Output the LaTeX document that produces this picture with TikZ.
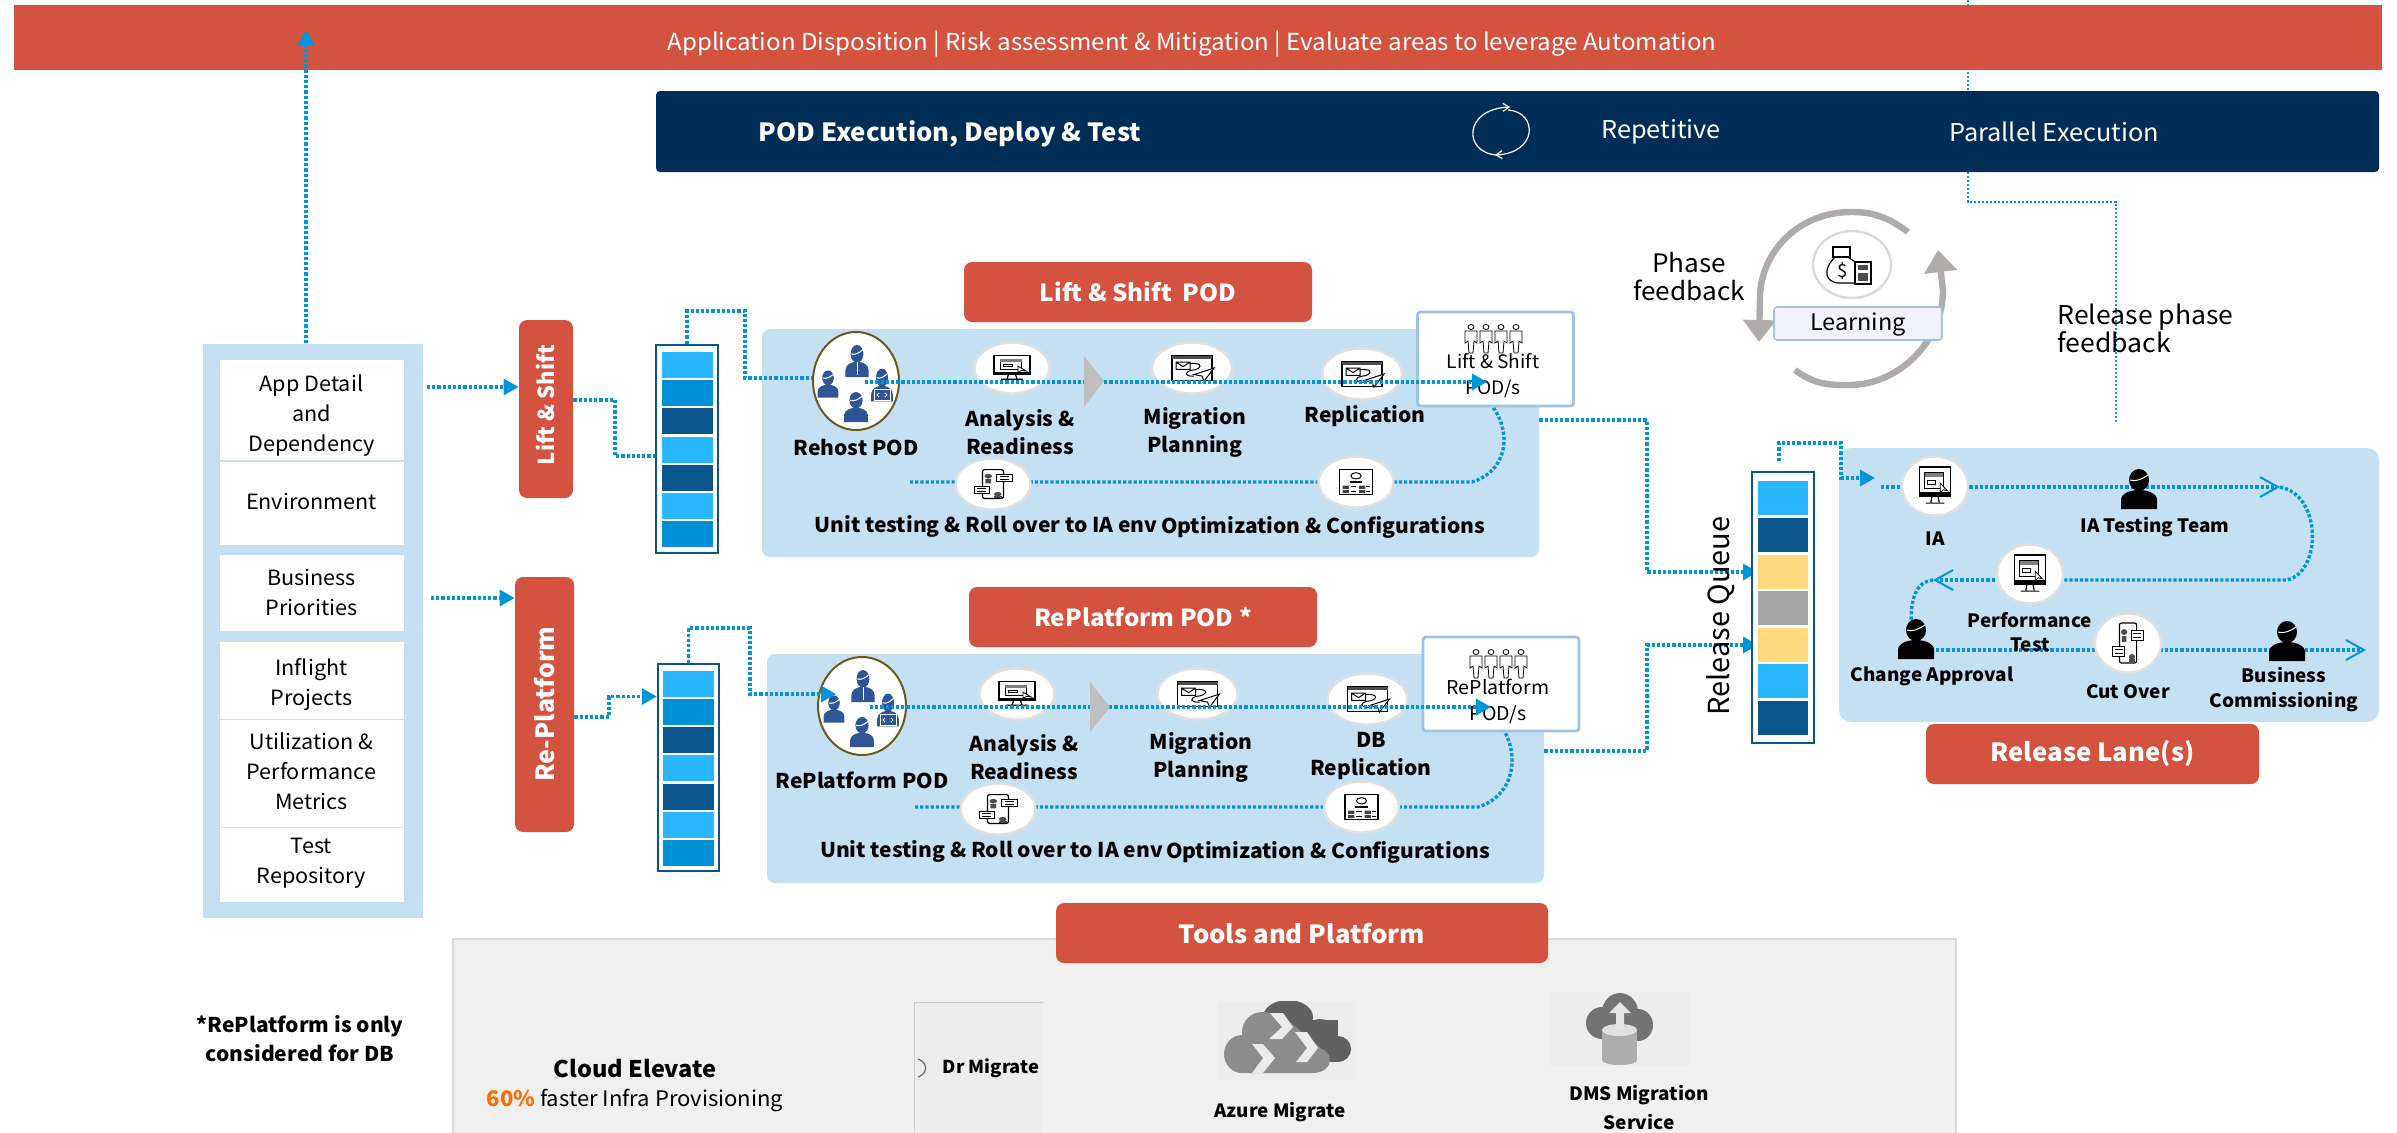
\documentclass[tikz,border=0pt]{standalone}
\usepackage{fontspec}
\setmainfont{Noto Sans CJK SC}[FakeStretch=1.03]
\newfontfamily\uprightsans{Noto Sans CJK SC}
\usetikzlibrary{arrows.meta,shapes.geometric}
\definecolor{tagred}{HTML}{D35340}
\definecolor{navybar}{HTML}{002D55}
\definecolor{panelblue}{HTML}{C5E0F2}
\definecolor{flowblue}{HTML}{0094D8}
\definecolor{qlight}{HTML}{29B8FF}
\definecolor{qmid}{HTML}{0090D6}
\definecolor{qdark}{HTML}{0A558C}
\definecolor{qyellow}{HTML}{FFD97D}
\definecolor{qgrey}{HTML}{A6A6A6}
\definecolor{teamblue}{HTML}{2F5597}
\definecolor{teamring}{HTML}{6B5A1E}
\definecolor{ringgrey}{HTML}{AFABAB}
\definecolor{edgeblue}{HTML}{9DC3E6}
\tikzset{
  boxwh/.style 2 args={minimum width=#1*.5pt,minimum height=#2*.5pt,inner sep=0pt},
  redtag/.style={fill=tagred,rounded corners=4pt,text=white,font=\fontsize{11.75}{14}\selectfont\bfseries},
  sidetag/.style={fill=tagred,rounded corners=4pt},
  sidetext/.style={text=white,rotate=90,inner sep=0pt,font=\fontsize{11}{14}\uprightsans\bfseries},
  plainlbl/.style={inner sep=0pt,align=center,font=\fontsize{11.7}{14}\selectfont},
  steplbl/.style={inner sep=0pt,align=center,font=\fontsize{10.2}{14}\selectfont\bfseries},
  lanelbl/.style={inner sep=0pt,align=center,font=\fontsize{9.2}{12.2}\selectfont\bfseries},
  inputbox/.style={fill=white},
  inputlbl/.style={inner sep=0pt,align=center,font=\fontsize{10.5}{15}\selectfont},
  queuebox/.style={draw=qdark,line width=1.2pt,fill=white},
  cellbox/.style={boxwh={51}{26}},
  relcell/.style={boxwh={50}{34}},
  stepdisc/.style={ellipse,fill=white,draw=black!12,line width=1.2pt,boxwh={75}{51}},
  lanedisc/.style={ellipse,fill=white,draw=black!12,line width=1.2pt,boxwh={66}{59}},
  teamdisc/.style={ellipse,fill=white,draw=teamring,line width=1pt},
  podsbox/.style={draw=edgeblue,fill=white,rounded corners=1.5pt,line width=1.4pt,boxwh={156}{94}},
  flow/.style={draw=flowblue,line width=1.7pt,dash pattern=on 1.6pt off 1pt},
  thinflow/.style={draw=flowblue,line width=1.1pt,dash pattern=on 1.2pt off .8pt},
  flowtip/.style={flow,-{Triangle[length=7.5pt,width=8pt]}},
  flowbarb/.style={flow,-{Straight Barb[length=9pt,width=10pt,line width=1pt]}},
  ring/.style={draw=ringgrey,line width=3.2pt,-{Triangle[length=11pt,width=16pt]}},
  pics/personicon/.style={code={
    \fill[pic actions] (0,-9) ellipse [x radius=10,y radius=11];
    \fill[pic actions] (-18,20) -- (-18,11) .. controls (-18,4) and (-8,1) .. (0,1) .. controls (8,1) and (18,4) .. (18,11) -- (18,20) -- cycle;
    \draw[white,line width=.5pt] (-9,-9) .. controls (-3,-7) and (3,-10) .. (9,-14);
  }},
  pics/monitoricon/.style={code={
    \draw[line width=.6pt,fill=white] (-15,-20) rectangle (15,11);
    \fill[black] (-15,6) rectangle (15,11);
    \draw[line width=.6pt] (-3,11) -- (-4,17) (3,11) -- (4,17) (-9,18) -- (9,18);
    \draw[line width=.5pt] (-10,-14) rectangle (8,3) (-7,-6) rectangle (0,-2);
    \fill[black!50] (-10,-14) rectangle (8,-10);
    \draw[fill=white,line width=.4pt] (5,-3) -- (5,7) -- (8,4) -- (12,5) -- cycle;
  }},
  pics/mailicon/.style={code={
    \draw[line width=.6pt,fill=white] (-20,-17) rectangle (20,17);
    \fill[black!70] (-20,-17) rectangle (20,-12);
    \draw[line width=.5pt] (-16,-8) rectangle (-2,2) (-16,-8) -- (-9,-2) -- (-2,-8);
    \draw[line width=.5pt] (-2,-6) .. controls (12,-8) and (10,2) .. (0,3) .. controls (-8,5) and (-8,12) .. (2,11);
    \draw[fill=white,line width=.5pt] (22,0) -- (2,9) -- (10,11) -- (12,18) -- cycle;
  }},
  pics/phoneicon/.style={code={
    \draw[line width=.6pt,fill=white,rounded corners=1pt] (-11,-20) rectangle (11,20);
    \draw[line width=.5pt,fill=white] (4,-13) rectangle (20,-3) (-20,3) rectangle (-4,13);
    \draw[line width=.4pt] (7,-10) -- (17,-10) (7,-6) -- (17,-6) (-17,6) -- (-7,6) (-17,10) -- (-7,10);
    \fill[black!70] (-5,-11) ellipse [x radius=4,y radius=3] (-8,-7) rectangle (-2,-1) (5,14) ellipse [x radius=4,y radius=3];
    \fill[black!70] (1,16) rectangle (9,19);
  }},
  pics/configicon/.style={code={
    \draw[line width=.6pt,fill=white] (-16,-20) rectangle (16,20);
    \draw[line width=.5pt] (0,-10) ellipse [x radius=5,y radius=5];
    \draw[line width=.6pt] (-6,0) -- (6,0);
    \fill[black!75] (-13,6) rectangle (-7,11) (-13,13) rectangle (-7,18) (3,6) rectangle (9,11) (3,13) rectangle (9,18);
    \draw[line width=.5pt] (-5,8) -- (0,8) (-5,15) -- (0,15) (10,8) -- (14,8) (10,15) -- (14,15);
  }},
  pics/teamicon/.style={code={
    \pic[fill=teamblue,xscale=.64,yscale=.8] at (1,-20) {personicon};
    \pic[fill=teamblue,xscale=.58,yscale=.68] at (-28,3) {personicon};
    \pic[fill=teamblue,xscale=.6,yscale=.82] at (26,4) {personicon};
    \pic[fill=teamblue,xscale=.66,yscale=.75] at (0,26) {personicon};
    \draw[white,line width=.5pt] (1,-19) -- (1,-6);
    \draw[white,line width=.5pt,fill=teamblue] (18,8) rectangle (34,19);
    \draw[white,line width=.4pt] (23,12) -- (21,14) -- (23,16) (29,12) -- (31,14) -- (29,16);
  }},
  pics/staffrow/.style={code={
    \foreach \xo in {-22,-7,8,23}{
      \draw[line width=.4pt] (\xo,-12) ellipse [x radius=3,y radius=2.5];
      \draw[line width=.4pt,fill=white] (\xo-6,-8) -- (\xo+6,-8) -- (\xo+6,4) -- (\xo+3,2) -- (\xo+2,14) -- (\xo-2,14) -- (\xo-3,2) -- (\xo-6,4) -- cycle;
    }
  }},
}
\begin{document}
\begin{tikzpicture}[x=.5pt,y=-.5pt]
\useasboundingbox (0,0) rectangle (2397,1132);
% feedback line behind the bars
\coordinate (relTop) at (1968,0);
\coordinate (relEnd) at (2116,422);
\draw[thinflow] (relTop) -- (1968,202) -| (relEnd);

\node[fill=tagred,boxwh={2368}{65}] (banner) at (1198,37.5) {};
\node[plainlbl,text=white] (bannerText) at (1192,44) {Application Disposition | Risk assessment \& Mitigation | Evaluate areas to leverage Automation};
\node[fill=navybar,rounded corners=2pt,boxwh={1723}{81}] (navy) at (1517.5,131.5) {};
\node[plainlbl,text=white,font=\fontsize{12.5}{14}\selectfont\bfseries] (navyTitle) at (950,134) {POD Execution, Deploy \& Test};
\node[plainlbl,text=white,font=\fontsize{12.3}{14}\selectfont] (navyRep) at (1661,132) {Repetitive};
\node[plainlbl,text=white,font=\fontsize{12.3}{14}\selectfont] (navyPar) at (2054,132) {Parallel Execution};
\draw[white,line width=.6pt,-{Straight Barb[length=3pt,width=4pt]}] (1497,155) .. controls (1463,153) and (1463,109) .. (1510,107);
\draw[white,line width=.6pt,-{Straight Barb[length=3pt,width=4pt]}] (1508,110) .. controls (1538,112) and (1538,153) .. (1495,155);

% inputs
\node[fill=panelblue,boxwh={220}{574}] (inputs) at (313,630.5) {};
\foreach \nm/\cy/\bh/\ty/\txt in {appDetail/410/100/416/{App Detail\\and\\Dependency},envBox/503/83/501.5/{Environment},bizBox/593/76/592/{Business\\Priorities},flightBox/680/77/684.5/{Inflight\\Projects},utilBox/773.5/107/771/{Utilization \&\\Performance\\Metrics},testBox/865/74/863.5/{Test\\Repository}}{
  \node[inputbox,boxwh={184}{\bh}] (\nm) at (311.5,\cy) {};
  \node[inputlbl] (\nm Text) at (311.5,\ty) {\txt};
}
\node[sidetag,boxwh={54}{178}] (lsTag) at (546,409) {};
\node[sidetext] (lsTagText) at (546,405) {Lift \& Shift};
\node[sidetag,boxwh={59}{255}] (rpTag) at (544.5,704.5) {};
\node[sidetext,font=\fontsize{12.5}{14}\uprightsans\bfseries] (rpTagText) at (544.5,704) {Re-Platform};

% queues
\node[queuebox,boxwh={62}{208}] (lsQueue) at (687,449) {};
\foreach \y/\c [count=\i] in {365/qlight,393/qmid,421/qdark,449.5/qlight,478/qdark,506/qlight,534/qmid}{
  \node[cellbox,fill=\c] (lsCell\i) at (687.5,\y) {};
}
\node[queuebox,boxwh={61}{207}] (rpQueue) at (688.5,767.5) {};
\foreach \y/\c [count=\i] in {684/qlight,712/qmid,740/qdark,768/qlight,796.5/qdark,825/qlight,852.5/qmid}{
  \node[cellbox,fill=\c] (rpCell\i) at (688.5,\y) {};
}
\coordinate (feedA) at (306,30);
\coordinate (inA) at (427,387);
\coordinate (inB) at (431,598);
\coordinate (lsBend) at (615,456);
\coordinate (rpBend) at (609,696.5);
\draw[flowtip] (feedA |- inputs.north) -- (feedA);
\draw[flowtip] (inA) -- (lsTag.west |- inA);
\draw[flowtip] (inB) -- (rpTag.west |- inB);
\draw[flow] (lsTag.east |- 0,400) -| (lsBend) -- (lsQueue.west |- lsBend);
\draw[flowtip] (rpTag.east |- 0,717) -| (rpBend) -- (rpQueue.west |- rpBend);

% lift and shift pod
\node[redtag,boxwh={348}{60}] (lsTitle) at (1138,292) {Lift \& Shift\ \ POD};
\node[fill=panelblue,rounded corners=4pt,boxwh={777}{228}] (lsPanel) at (1150.5,443) {};
\coordinate (lsBack) at (910,482);
\coordinate (lsTurn) at (1472,482);
\coordinate (lsStart) at (865,382);
\coordinate (lsTip) at (1487,381);
\draw[flow] (lsQueue.north) |- (745,311) -- (745,378) -- (811,378);
\draw[flow] (lsBack) -- (lsTurn) .. controls (1512,470) and (1515,420) .. (1478,392);
\node[teamdisc,boxwh={86}{98}] (lsTeam) at (856,381) {};
\pic at (lsTeam) {teamicon};
\node[stepdisc] (lsAnalysis) at (1012,368) {};
\node[stepdisc,boxwh={80}{51}] (lsMigPlan) at (1192,368) {};
\node[stepdisc,boxwh={80}{51}] (lsRepl) at (1362,374) {};
\node[stepdisc] (lsUnit) at (993,484) {};
\node[stepdisc] (lsOpt) at (1356,482) {};
\pic[xscale=1.2,yscale=.62] at (lsAnalysis) {monitoricon};
\pic[yscale=.73] at (lsMigPlan) {mailicon};
\pic[yscale=.73] at (lsRepl) {mailicon};
\pic[xscale=.95,yscale=.72] at (lsUnit) {phoneicon};
\pic[xscale=1.03,yscale=.62] at (lsOpt) {configicon};
\node[podsbox] (lsPods) at (1495.5,359) {};
\pic at (1493,339) {staffrow};
\node[plainlbl,font=\fontsize{9.3}{13}\selectfont] (lsPodsText) at (1493,375.5) {Lift \& Shift\\POD/s};
\node[steplbl] (lsTeamLbl) at (856,447) {Rehost POD};
\node[steplbl] (lsAnalysisLbl) at (1020,432) {Analysis \&\\Readiness};
\node[steplbl] (lsMigLbl) at (1195,432) {Migration\\Planning};
\node[steplbl] (lsReplLbl) at (1365,416) {Replication};
\node[steplbl] (lsUnitLbl) at (986,526) {Unit testing \& Roll over to IA env};
\node[steplbl] (lsOptLbl) at (1323,527) {Optimization \& Configurations};
\draw[flowtip] (lsStart) -- (lsTip |- lsStart);
\fill[black!25] (1084,356) -- (1104,381) -- (1084,407) -- cycle;

% replatform pod
\node[redtag,boxwh={348}{60}] (rpTitle) at (1143,617) {RePlatform POD *};
\node[fill=panelblue,rounded corners=4pt,boxwh={777}{229}] (rpPanel) at (1155.5,768.5) {};
\coordinate (rpBack) at (915,807);
\coordinate (rpTurn) at (1478,807);
\coordinate (rpStart) at (870,707);
\coordinate (rpTip) at (1491,706);
\draw[flow] (rpBack) -- (rpTurn) .. controls (1518,795) and (1522,745) .. (1494,718);
\node[teamdisc,boxwh={88}{98}] (rpTeam) at (862,706) {};
\pic at (rpTeam) {teamicon};
\draw[flowtip] (rpQueue.north) |- (750,628) -- (750,694) -- (836,694);
\node[stepdisc] (rpAnalysis) at (1017,694) {};
\node[stepdisc,boxwh={80}{51}] (rpMigPlan) at (1197.5,694) {};
\node[stepdisc,boxwh={80}{51}] (rpRepl) at (1367.5,699) {};
\node[stepdisc] (rpUnit) at (998,809) {};
\node[stepdisc] (rpOpt) at (1361.5,807) {};
\pic[xscale=1.2,yscale=.62] at (rpAnalysis) {monitoricon};
\pic[yscale=.73] at (rpMigPlan) {mailicon};
\pic[yscale=.73] at (rpRepl) {mailicon};
\pic[xscale=.95,yscale=.72] at (rpUnit) {phoneicon};
\pic[xscale=1.03,yscale=.62] at (rpOpt) {configicon};
\node[podsbox] (rpPods) at (1501,684) {};
\pic at (1498,664) {staffrow};
\node[plainlbl,font=\fontsize{9.5}{13}\selectfont] (rpPodsText) at (1498,701) {RePlatform\\POD/s};
\node[steplbl] (rpTeamLbl) at (862,780) {RePlatform POD};
\node[steplbl] (rpAnalysisLbl) at (1024,757) {Analysis \&\\Readiness};
\node[steplbl] (rpMigLbl) at (1201,757) {Migration\\Planning};
\node[steplbl] (rpReplLbl) at (1371,756) {DB\\Replication};
\node[steplbl] (rpUnitLbl) at (991.5,851) {Unit testing \& Roll over to IA env};
\node[steplbl] (rpOptLbl) at (1328,852) {Optimization \& Configurations};
\draw[flowtip] (rpStart) -- (rpTip |- rpStart);
\fill[black!25] (1090,682) -- (1110,707) -- (1090,732) -- cycle;

% learning ring
\node[plainlbl,font=\fontsize{12.7}{14}\selectfont] (phaseLbl) at (1689,277) {Phase\\feedback};
\node[plainlbl,font=\fontsize{12.9}{14}\selectfont,align=left,anchor=west] (relLbl) at (2057,328) {Release phase\\feedback};
\draw[ring] (1908,232) .. controls (1885,215) and (1870,212) .. (1851,212) .. controls (1800,212) and (1762,250) .. (1760,295) -- (1759,342);
\draw[ring] (1795,370) .. controls (1815,385) and (1830,385) .. (1849,385) .. controls (1900,385) and (1943,340) .. (1943,290) -- (1938,250);
\node[ellipse,fill=white,draw=black!15,line width=1.2pt,boxwh={78}{67}] (learnDisc) at (1852,264.5) {};
\draw[line width=.6pt,fill=white] (1835,257) .. controls (1822,270) and (1825,283) .. (1840,283) -- (1855,283) -- (1855,262) -- (1848,257) -- cycle;
\draw[line width=.6pt] (1833,247) rectangle (1850,257);
\node[inner sep=0pt,font=\fontsize{9}{9}\selectfont] (learnCoin) at (1843,271) {\$};
\draw[line width=.6pt,fill=white] (1855,262) rectangle (1871,284);
\fill[black!70] (1858,265) rectangle (1868,270);
\fill[black!70] (1858,273) rectangle (1868,281);
\node[fill=blue!5!white,draw=edgeblue,rounded corners=1.5pt,line width=.8pt,boxwh={168}{33}] (learnBox) at (1858,323.5) {};
\node[plainlbl,font=\fontsize{11.4}{14}\selectfont] (learnLbl) at (1858,325) {Learning};

% release queue and lane
\coordinate (relBendA) at (1647,420);
\coordinate (relBendB) at (1647,751);
\coordinate (relIn) at (1875,478);
\draw[flowtip] (lsPanel.east |- relBendA) -- (relBendA) |- (1758,572);
\draw[flowtip] (rpPanel.east |- relBendB) -- (relBendB) |- (1758,645);
\node[queuebox,boxwh={62}{271}] (relQueue) at (1783,607.5) {};
\foreach \y/\c [count=\i] in {498/qlight,535/qdark,572/qyellow,608/qgrey,645/qyellow,681/qlight,718/qdark}{
  \node[relcell,fill=\c] (relCell\i) at (1783,\y) {};
}
\node[inner sep=0pt,rotate=90,font=\fontsize{14.5}{14}\uprightsans] (relQueueLbl) at (1721,616) {Release Queue};
\node[fill=panelblue,rounded corners=6pt,boxwh={540}{274}] (relPanel) at (2109,585) {};
\node[redtag,font=\fontsize{12.5}{14}\selectfont\bfseries,boxwh={333}{60}] (relLane) at (2092.5,754) {Release Lane(s)};
\coordinate (laneA) at (1881,487);
\coordinate (laneB) at (2280,487);
\coordinate (laneC) at (1933,580);
\coordinate (laneD) at (1936,650);
\coordinate (laneE) at (2366,650);
\draw[flowtip] (1779,461) |- (1841,443) |- (relIn);
\draw[flowbarb] (laneA) -- (laneB);
\draw[flow] (laneB) .. controls (2322,495) and (2322,572) .. (2287,580) -- (2000,580);
\draw[flowbarb] (2000,580) -- (laneC);
\draw[flow] (laneC) .. controls (1915,582) and (1911,600) .. (1911,622);
\draw[flowbarb] (laneD) -- (laneE);
\node[lanedisc] (iaDisc) at (1935,486) {};
\node[lanedisc] (perfDisc) at (2030,574) {};
\node[lanedisc] (cutDisc) at (2128,643) {};
\pic[xscale=1.03,yscale=.95] at (iaDisc) {monitoricon};
\pic[xscale=1.03,yscale=.95] at (perfDisc) {monitoricon};
\pic[xscale=.78] at (cutDisc) {phoneicon};
\pic[fill=black] at (2139,489) {personicon};
\pic[fill=black] at (1916,639) {personicon};
\pic[fill=black] at (2287,641) {personicon};
\node[lanelbl] (iaLbl) at (1935.5,539) {IA};
\node[lanelbl] (iaTeamLbl) at (2155,527) {IA Testing Team};
\node[lanelbl] (perfLbl) at (2030,632) {Performance\\Test};
\node[lanelbl] (changeLbl) at (1932,676) {Change Approval};
\node[lanelbl] (cutLbl) at (2128,692) {Cut Over};
\node[lanelbl] (bizLbl) at (2284,689.5) {Business\\Commissioning};

% tools
\node[fill=black!6,draw=black!15,line width=1pt,anchor=north west,boxwh={1503}{200}] (toolPanel) at (452,938) {};
\node[redtag,font=\fontsize{12.5}{14}\selectfont\bfseries,boxwh={492}{60}] (toolTitle) at (1302,933) {Tools and Platform};
\node[steplbl,font=\fontsize{10.2}{14.5}\selectfont\bfseries] (noteLbl) at (300,1038.5) {*RePlatform is only\\considered for DB};
\node[steplbl,font=\fontsize{11.45}{14}\selectfont\bfseries] (elevLbl) at (635,1068) {Cloud Elevate};
\node[plainlbl,font=\fontsize{10.7}{14}\selectfont] (elevSub) at (635,1100) {\textcolor{orange!85!red}{\textbf{60\%}} faster Infra Provisioning};
\node[fill=black!7,anchor=north west,boxwh={129}{140}] (drBox) at (914,1002) {};
\draw[black!20,line width=.5pt] (1043,1002) -- (914,1002) -- (914,1132);
\draw[black!60,line width=.6pt] (918,1059) .. controls (928,1062) and (928,1074) .. (918,1077);
\node[steplbl,font=\fontsize{8.9}{14}\selectfont\bfseries] (drLbl) at (991,1068) {Dr Migrate};
\node[fill=black!7,boxwh={138}{78}] (azBox) at (1287,1041) {};
\begin{scope}
\clip (azBox.south west) rectangle (azBox.north east);
\fill[black!62] (1288,1017) ellipse [x radius=25,y radius=17];
\fill[black!62] (1320,1037) ellipse [x radius=17,y radius=18];
\fill[black!62] (1338,1049) ellipse [x radius=13,y radius=13];
\fill[black!62] (1280,1020) rectangle (1338,1062);
\end{scope}
\fill[black!45] (1262,1032) ellipse [x radius=20,y radius=20];
\fill[black!45] (1242,1054) ellipse [x radius=18,y radius=19];
\fill[black!45] (1313,1060) ellipse [x radius=17,y radius=13];
\fill[black!45] (1242,1073) -- (1242,1035) -- (1262,1012) -- (1280,1014) -- (1320,1047) -- (1313,1073) -- cycle;
\fill[white!92!black] (1270,1013) -- (1283,1013) -- (1293,1027) -- (1282,1039) -- (1269,1039) -- (1282,1027) -- cycle;
\fill[white!92!black] (1295,1032) -- (1307,1032) -- (1318,1048) -- (1307,1062) -- (1296,1062) -- (1307,1048) -- cycle;
\fill[white!92!black] (1252,1044) -- (1263,1044) -- (1275,1058) -- (1263,1073) -- (1252,1073) -- (1263,1058) -- cycle;
\node[steplbl,font=\fontsize{9.15}{14}\selectfont\bfseries] (azLbl) at (1280,1112) {Azure Migrate};
\node[fill=black!7,boxwh={139}{74}] (dmsBox) at (1619.5,1029) {};
\fill[black!55] (1620,1012) ellipse [x radius=18,y radius=19];
\fill[black!55] (1602,1023) ellipse [x radius=16,y radius=16];
\fill[black!55] (1638,1025) ellipse [x radius=15,y radius=16];
\fill[black!32] (1602,1030) rectangle (1637,1060);
\fill[black!32] (1619.5,1060) ellipse [x radius=17.5,y radius=5];
\fill[black!12] (1619.5,1030) ellipse [x radius=17.5,y radius=6];
\fill[black!10] (1616,1030) -- (1616,1013) -- (1609,1013) -- (1620,1002) -- (1631,1013) -- (1624,1013) -- (1624,1030) -- cycle;
\node[steplbl,font=\fontsize{9.2}{14.5}\selectfont\bfseries] (dmsLbl) at (1639,1107.5) {DMS Migration\\Service};
\end{tikzpicture}
\end{document}
